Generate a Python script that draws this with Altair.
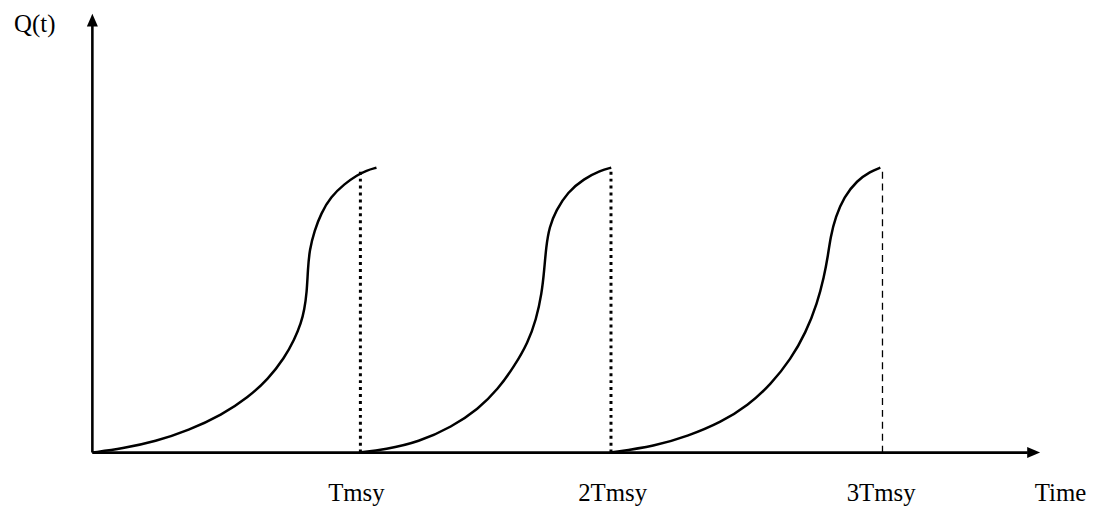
import altair as alt
import pandas as pd

# Time in units of Tmsy, Q in units of the maximum stock Q reached in each cycle
curve1_t = [0.000, 0.112, 0.236, 0.359, 0.483, 0.581, 0.656, 0.717, 0.754, 0.779, 0.791,
            0.800, 0.804, 0.810, 0.829, 0.853, 0.889, 0.940, 0.989, 1.022, 1.060]
curve1_q = [0.000, 0.014, 0.039, 0.078, 0.132, 0.194, 0.258, 0.333, 0.397, 0.455, 0.502,
            0.561, 0.641, 0.711, 0.780, 0.839, 0.897, 0.943, 0.974, 0.990, 1.000]

curve2_t = [0.995, 1.094, 1.217, 1.341, 1.440, 1.514, 1.575, 1.625, 1.656, 1.677, 1.686,
            1.693, 1.705, 1.730, 1.773, 1.834, 1.896, 1.936]
curve2_q = [0.000, 0.011, 0.037, 0.090, 0.153, 0.223, 0.304, 0.386, 0.467, 0.560, 0.641,
            0.722, 0.792, 0.850, 0.914, 0.961, 0.990, 1.000]

curve3_t = [1.933, 2.100, 2.223, 2.347, 2.446, 2.532, 2.606, 2.662, 2.705, 2.730, 2.744,
            2.754, 2.773, 2.804, 2.853, 2.903, 2.940]
curve3_q = [0.000, 0.023, 0.058, 0.107, 0.165, 0.240, 0.328, 0.421, 0.525, 0.618, 0.687,
            0.757, 0.827, 0.897, 0.955, 0.987, 1.000]

thick_harvest_t = [1.000, 1.935]
thin_harvest_t = [2.948]

tick_labels = ["Tmsy", "2Tmsy", "3Tmsy"]
tick_label_t = [0.985, 1.941, 2.943]

x_title = "Time"
x_title_t = 3.612
y_title = "Q(t)"
y_title_t = -0.215
y_title_q = 1.476
label_q = -0.170

x_axis_end = 3.49
y_axis_end = 1.50
x_arrow_t = 3.512
y_arrow_q = 1.518

X_DOMAIN = [-0.3148, 3.7148]
Y_DOMAIN = [-0.195, 1.554]
W, H = 1088, 502


def X(field):
    return alt.X(field, type="quantitative", axis=None,
                 scale=alt.Scale(domain=X_DOMAIN, nice=False, zero=False))


def Y(field):
    return alt.Y(field, type="quantitative", axis=None,
                 scale=alt.Scale(domain=Y_DOMAIN, nice=False, zero=False))


rows = []
for cyc, (ts, qs) in enumerate([(curve1_t, curve1_q), (curve2_t, curve2_q), (curve3_t, curve3_q)]):
    for i, (t, q) in enumerate(zip(ts, qs)):
        rows.append({"cycle": cyc, "idx": i, "t": t, "q": q})
curves_df = pd.DataFrame(rows)

curves = alt.Chart(curves_df).mark_line(
    color="black", strokeWidth=2.5, interpolate="basis"
).encode(
    x=X("t"), y=Y("q"),
    detail=alt.Detail("cycle", type="nominal"),
    order=alt.Order("idx", type="quantitative"),
)

thick_df = pd.DataFrame({"t": thick_harvest_t, "q0": [0.0] * 2, "q1": [1.0] * 2})
thin_df = pd.DataFrame({"t": thin_harvest_t, "q0": [0.0], "q1": [1.0]})
thick = alt.Chart(thick_df).mark_rule(
    color="black", strokeWidth=3, strokeDash=[3, 4]
).encode(x=X("t"), y=Y("q0"), y2=alt.Y2("q1"))
thin = alt.Chart(thin_df).mark_rule(
    color="black", strokeWidth=1.3, strokeDash=[7, 5]
).encode(x=X("t"), y=Y("q0"), y2=alt.Y2("q1"))

xaxis_df = pd.DataFrame({"a": [0.0], "b": [x_axis_end], "c": [0.0]})
yaxis_df = pd.DataFrame({"a": [0.0], "b": [0.0], "c": [y_axis_end]})
xaxis = alt.Chart(xaxis_df).mark_rule(color="black", strokeWidth=2.6).encode(
    x=X("a"), x2=alt.X2("b"), y=Y("c"))
yaxis = alt.Chart(yaxis_df).mark_rule(color="black", strokeWidth=2.6).encode(
    x=X("a"), y=Y("b"), y2=alt.Y2("c"))

up_arrow = alt.Chart(pd.DataFrame({"t": [0.0], "q": [y_arrow_q]})).mark_point(
    shape="M0,-1L0.85,1L-0.85,1Z", filled=True, size=170, color="black", opacity=1
).encode(x=X("t"), y=Y("q"))
right_arrow = alt.Chart(pd.DataFrame({"t": [x_arrow_t], "q": [0.0]})).mark_point(
    shape="M1,0L-1,-0.85L-1,0.85Z", filled=True, size=170, color="black", opacity=1
).encode(x=X("t"), y=Y("q"))

lab_df = pd.DataFrame({
    "label": tick_labels + [x_title, y_title],
    "t": tick_label_t + [x_title_t, y_title_t],
    "q": [label_q] * 4 + [y_title_q],
})
labels = alt.Chart(lab_df).mark_text(
    font="Liberation Serif", fontSize=25, color="black", align="center", baseline="alphabetic"
).encode(x=X("t"), y=Y("q"), text=alt.Text("label", type="nominal"))

chart = alt.layer(xaxis, yaxis, thick, thin, curves, up_arrow, right_arrow, labels).properties(
    width=W, height=H, padding=0, autosize=alt.AutoSizeParams(type="none")
).configure(background="white").configure_view(stroke=None)

chart.save("out.html", embed_options={"renderer": "svg", "actions": False})
